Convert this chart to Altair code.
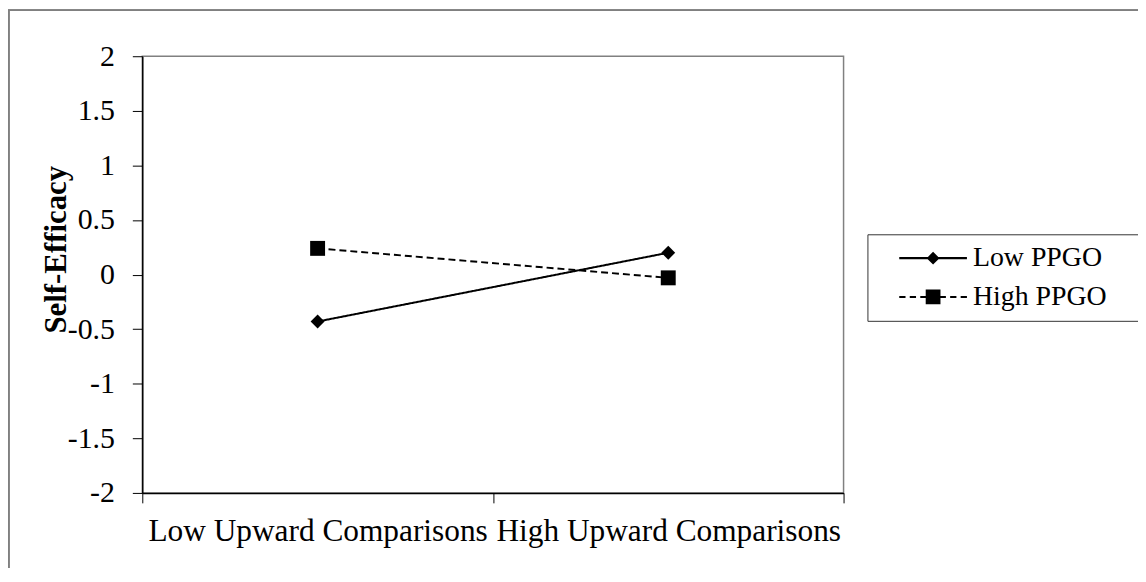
import altair as alt
import pandas as pd

cats = ["Low Upward Comparisons", "High Upward Comparisons"]
series = ["Low PPGO", "High PPGO"]
low_vals = [-0.43, 0.20]
high_vals = [0.24, -0.03]
y_ticks = [-2, -1.5, -1, -0.5, 0, 0.5, 1, 1.5, 2]

rows = []
for c, v in zip(cats, low_vals):
    rows.append({"cat": c, "series": series[0], "value": v})
for c, v in zip(cats, high_vals):
    rows.append({"cat": c, "series": series[1], "value": v})
df = pd.DataFrame(rows)

FONT = "Liberation Serif"

x_enc = alt.X(
    "cat:N",
    sort=cats,
    scale=alt.Scale(type="band", domain=cats, paddingInner=0, paddingOuter=0),
    axis=alt.Axis(
        title=None, labelAngle=0, tickBand="extent", tickSize=10, tickColor="black",
        domainColor="black", domainWidth=1.5, tickWidth=1, labelFont=FONT,
        labelFontSize=31.5, labelColor="black", labelPadding=13, labelLimit=1000,
        grid=False,
    ),
)
y_enc = alt.Y(
    "value:Q",
    scale=alt.Scale(domain=[-2, 2], nice=False, zero=False),
    axis=alt.Axis(
        values=y_ticks, labelExpr="'' + datum.value", tickSize=10, tickColor="black",
        domainColor="black", domainWidth=1.5, tickWidth=1, labelFont=FONT,
        labelFontSize=30, labelColor="black", labelPadding=18, grid=False,
        title="Self-Efficacy", titleFont=FONT, titleFontSize=31, titleFontWeight="bold",
        titleColor="black", titleAngle=270, titleX=-77, titleY=194,
        titleBaseline="alphabetic", titleAlign="center",
    ),
)

frame = alt.Chart(df).mark_rect(fillOpacity=0, stroke="#808080", strokeWidth=1.5).encode(
    x=alt.value(-134.25), x2=alt.value(1017), y=alt.value(-46.25), y2=alt.value(545)
)

lines = alt.Chart(df).mark_line(color="black", strokeWidth=2).encode(
    x=x_enc,
    y=y_enc,
    strokeDash=alt.StrokeDash(
        "series:N", scale=alt.Scale(domain=series, range=[[1, 0], [7, 4]]), legend=None
    ),
    detail="series:N",
)

points = alt.Chart(df).mark_point(filled=True, color="black", opacity=1).encode(
    x=x_enc,
    y=y_enc,
    shape=alt.Shape("series:N", scale=alt.Scale(domain=series, range=["diamond", "square"]), legend=None),
    size=alt.Size("series:O", scale=alt.Scale(domain=series, range=[196, 225]), legend=None),
)


def seg(a, b, h=0.075):
    return f"M{a},{-h}L{b},{-h}L{b},{h}L{a},{h}Z"


SLIVER = "M14.2,0L14.25,0L14.25,0.002Z"
path_low = seg(-2.43, 2.43) + "M0,-0.46L0.46,0L0,0.46L-0.46,0Z" + SLIVER
path_high = (seg(-2.43, -1.98) + seg(-1.675, -1.225) + seg(-0.92, -0.5)
             + seg(0.5, 0.92) + seg(1.225, 1.675) + seg(1.98, 2.43)
             + "M-0.53,-0.53L0.53,-0.53L0.53,0.53L-0.53,0.53Z" + SLIVER)

legend_layer = alt.Chart(df).transform_filter("false").mark_point(
    filled=True, color="black", opacity=1
).encode(
    shape=alt.Shape(
        "series:N",
        scale=alt.Scale(domain=series, range=[path_low, path_high]),
        legend=alt.Legend(
            title=None, orient="none", legendX=729, legendY=179,
            strokeColor="#333333", padding=10, symbolSize=784, symbolStrokeWidth=0,
            symbolFillColor="black", symbolOffset=42,
            labelOffset=26, labelFont=FONT, labelFontSize=28, labelColor="black",
            rowPadding=11, labelLimit=1000,
        ),
    )
)

chart = alt.layer(frame, lines, points, legend_layer).resolve_scale(
    shape="independent"
).properties(
    width=705, height=439,
    autosize=alt.AutoSizeParams(type="none"),
    padding={"left": 135, "top": 47, "right": 296, "bottom": 74},
    background="white",
).configure_view(stroke="#808080", strokeWidth=1.5)

chart.save("out.html", embed_options={"renderer": "svg", "actions": False})
